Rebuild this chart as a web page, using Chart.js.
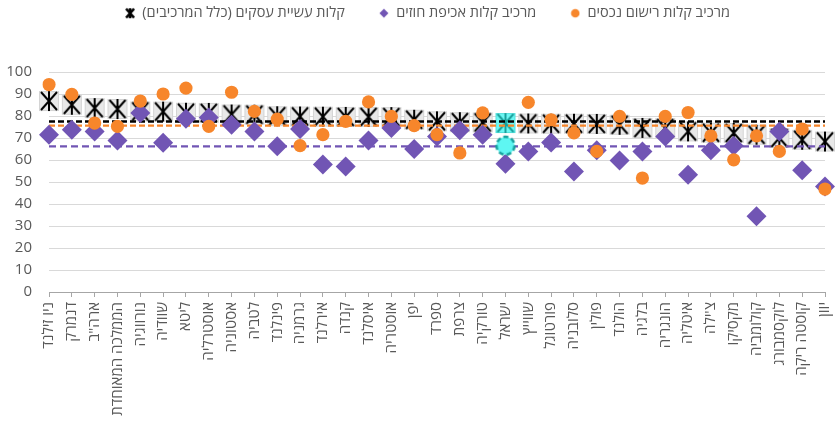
<!DOCTYPE html>
<html lang="he">
<head>
<meta charset="utf-8">
<script src="https://cdn.jsdelivr.net/npm/chart.js@4.4.1/dist/chart.umd.min.js"></script>
<style>
  html, body { margin: 0; padding: 0; background: #ffffff; }
  #wrap { width: 836px; height: 424px; }
</style>
</head>
<body>
<div id="wrap"><canvas id="c" width="836" height="424"></canvas></div>
<script>
// ---- data ----
const categories = ['ניו זילנד','דנמרק','ארה"ב','הממלכה המאוחדת','נורווגיה','שוודיה','ליטא','אוסטרליה','אסטוניה','לטביה','פינלנד','גרמניה','אירלנד','קנדה','איסלנד','אוסטריה','יפן','ספרד','צרפת','טורקיה','ישראל','שווייץ','פורטוגל','סלובניה','פולין','הולנד','בלגיה','הונגריה','איטליה',"צ'ילה",'מקסיקו','קולומביה','לוקסמבורג','קוסטה ריקה','יוון'];
const propertyScores = [94.3, 89.8, 76.8, 75.3, 86.8, 90.0, 92.7, 75.3, 90.8, 82.1, 78.6, 66.5, 71.5, 77.6, 86.4, 79.8, 75.6, 71.5, 63.2, 81.4, 66.5, 86.2, 78.3, 72.3, 63.9, 79.8, 51.8, 79.8, 81.6, 71.0, 60.1, 71.0, 63.9, 74.1, 46.8];
const contractScores = [71.5, 73.8, 73.0, 68.9, 81.4, 67.8, 78.8, 79.3, 76.0, 73.0, 66.2, 74.1, 57.9, 57.1, 68.9, 74.5, 65.0, 70.7, 73.5, 71.5, 58.3, 63.9, 68.0, 54.8, 64.4, 59.8, 63.9, 70.7, 53.3, 64.4, 66.5, 34.4, 73.0, 55.3, 48.0];
const totalScores = [86.8, 85.1, 83.6, 83.2, 82.1, 82.0, 81.5, 81.4, 80.7, 80.6, 79.9, 79.8, 79.7, 79.6, 79.6, 79.5, 78.3, 77.6, 77.2, 77.1, 76.8, 76.6, 76.5, 76.5, 76.4, 76.0, 74.6, 74.5, 73.0, 72.4, 72.3, 71.5, 70.0, 69.2, 68.4];
const avgTotal = 77.5;
const avgProperty = 75.6;
const avgContract = 66.2;
const seriesLabels = ['מרכיב קלות רישום נכסים', 'מרכיב קלות אכיפת חוזים', 'קלות עשיית עסקים (כלל המרכיבים)'];
const highlightCategory = 'ישראל';
const yMin = 0, yMax = 100, yStep = 10;

// ---- styles ----
const ORANGE = '#F7862B';
const PURPLE = '#7155B4';
const TEXT = '#595959';
const FONT = "'Open Sans', 'Liberation Sans', 'DejaVu Sans', sans-serif";
const hi = categories.indexOf(highlightCategory);

function totalMarker(fill, edge, star) {
  const c = document.createElement('canvas');
  c.width = 22; c.height = 22;
  const g = c.getContext('2d');
  g.fillStyle = fill; g.fillRect(1.5, 1.5, 19, 19);
  g.strokeStyle = edge; g.lineWidth = 1; g.strokeRect(1.5, 1.5, 19, 19);
  g.strokeStyle = star; g.lineWidth = 2; g.lineCap = 'butt';
  g.beginPath();
  g.moveTo(3, 2); g.lineTo(19, 20);
  g.moveTo(19, 2); g.lineTo(3, 20);
  g.moveTo(11, 1); g.lineTo(11, 21);
  g.stroke();
  return c;
}
function highlightCircle() {
  const c = document.createElement('canvas');
  c.width = 24; c.height = 24;
  const g = c.getContext('2d');
  g.fillStyle = '#5EF6F2';
  g.beginPath(); g.arc(12, 12, 9, 0, Math.PI * 2); g.fill();
  g.strokeStyle = '#16A29E'; g.lineWidth = 2.5; g.setLineDash([5, 3]);
  g.stroke();
  return c;
}
function legendMarker(kind) {
  const c = document.createElement('canvas');
  c.width = 38; c.height = 12;
  const g = c.getContext('2d');
  const cx = 33, cy = 6;
  if (kind === 'total') {
    g.strokeStyle = '#000'; g.lineWidth = 2.6;
    g.beginPath();
    g.moveTo(cx - 4, cy - 4.5); g.lineTo(cx + 4, cy + 4.5);
    g.moveTo(cx + 4, cy - 4.5); g.lineTo(cx - 4, cy + 4.5);
    g.moveTo(cx, cy - 5); g.lineTo(cx, cy + 5);
    g.stroke();
  } else if (kind === 'contract') {
    g.fillStyle = PURPLE;
    g.beginPath(); g.moveTo(cx, cy - 4.5); g.lineTo(cx + 4.5, cy); g.lineTo(cx, cy + 4.5); g.lineTo(cx - 4.5, cy); g.closePath(); g.fill();
  } else {
    g.fillStyle = ORANGE;
    g.beginPath(); g.arc(cx, cy, 4.3, 0, Math.PI * 2); g.fill();
  }
  return c;
}
const greyTotal = totalMarker('#E8E8E8', '#D4D4D4', '#000000');
const cyanTotal = totalMarker('#6CF7F3', '#52E0DC', '#1A9F9B');
const cyanCircle = highlightCircle();
const lgTotal = legendMarker('total'), lgContract = legendMarker('contract'), lgProperty = legendMarker('property');

function avgLine(v) {
  return [{ x: categories[0], y: v }, { x: categories[categories.length - 1], y: v }];
}

Chart.defaults.font.family = FONT;

const legendHeightPlugin = {
  id: 'legendHeight',
  beforeLayout(chart) {
    const lg = chart.legend;
    if (lg && !lg._patched) {
      const f = lg.fit;
      lg.fit = function () { f.call(this); this.height = 72; };
      lg._patched = true;
    }
  }
};

new Chart(document.getElementById('c'), {
  type: 'line',
  data: {
    labels: categories,
    datasets: [
      {
        label: seriesLabels[0], data: propertyScores, showLine: false, order: 0,
        backgroundColor: ORANGE, borderColor: ORANGE,
        pointStyle: (ctx) => ctx.dataIndex === hi ? cyanCircle : 'circle',
        pointRadius: 6.6, pointBorderWidth: 0
      },
      {
        label: seriesLabels[1], data: contractScores, showLine: false, order: 1,
        backgroundColor: PURPLE, borderColor: PURPLE,
        pointStyle: 'rectRot', pointRadius: 10, pointBorderWidth: 0
      },
      {
        label: 'avgTotal', data: avgLine(avgTotal), order: 2,
        borderColor: '#000000', borderWidth: 2.5, borderDash: [6, 3], pointRadius: 0, fill: false
      },
      {
        label: 'avgProperty', data: avgLine(avgProperty), order: 3,
        borderColor: ORANGE, borderWidth: 2.2, borderDash: [6, 3], pointRadius: 0, fill: false
      },
      {
        label: 'avgContract', data: avgLine(avgContract), order: 4,
        borderColor: PURPLE, borderWidth: 2.2, borderDash: [7, 4], pointRadius: 0, fill: false
      },
      {
        label: seriesLabels[2], data: totalScores, showLine: false, order: 5,
        backgroundColor: '#E8E8E8', borderColor: '#000000',
        pointStyle: (ctx) => ctx.dataIndex === hi ? cyanTotal : greyTotal,
        pointRadius: 10
      }
    ]
  },
  options: {
    responsive: false,
    animation: false,
    events: [],
    layout: { padding: { top: 0, left: 0, right: 9, bottom: 0 } },
    plugins: {
      tooltip: { enabled: false },
      legend: {
        position: 'top',
        align: 'center',
        textDirection: 'rtl',
        labels: {
          usePointStyle: true,
          pointStyleWidth: 38,
          padding: 6,
          color: TEXT,
          font: { size: 14.5 },
          generateLabels() {
            const base = { hidden: false, lineWidth: 0, strokeStyle: 'transparent', fillStyle: 'transparent', fontColor: TEXT };
            return [
              Object.assign({}, base, { text: seriesLabels[2], pointStyle: lgTotal, datasetIndex: 5 }),
              Object.assign({}, base, { text: seriesLabels[1], pointStyle: lgContract, datasetIndex: 1 }),
              Object.assign({}, base, { text: seriesLabels[0], pointStyle: lgProperty, datasetIndex: 0 })
            ];
          }
        }
      }
    },
    scales: {
      x: {
        type: 'category',
        offset: false,
        grid: { display: true, drawOnChartArea: false, drawTicks: true, tickLength: 5, color: '#A6A6A6' },
        border: { display: true, color: '#A6A6A6', width: 1 },
        ticks: { autoSkip: false, minRotation: 90, maxRotation: 90, padding: 5, color: TEXT, font: { size: 15 } },
        afterFit(s) { s.height = 132; s.paddingLeft = 0; s.paddingRight = 0; }
      },
      y: {
        min: yMin, max: yMax,
        ticks: { stepSize: yStep, padding: 17, color: TEXT, font: { size: 15 } },
        grid: { color: '#D9D9D9', drawTicks: false, lineWidth: 1 },
        border: { display: false },
        afterFit(s) { s.width = 49; }
      }
    }
  },
  plugins: [legendHeightPlugin]
});
</script>
</body>
</html>
